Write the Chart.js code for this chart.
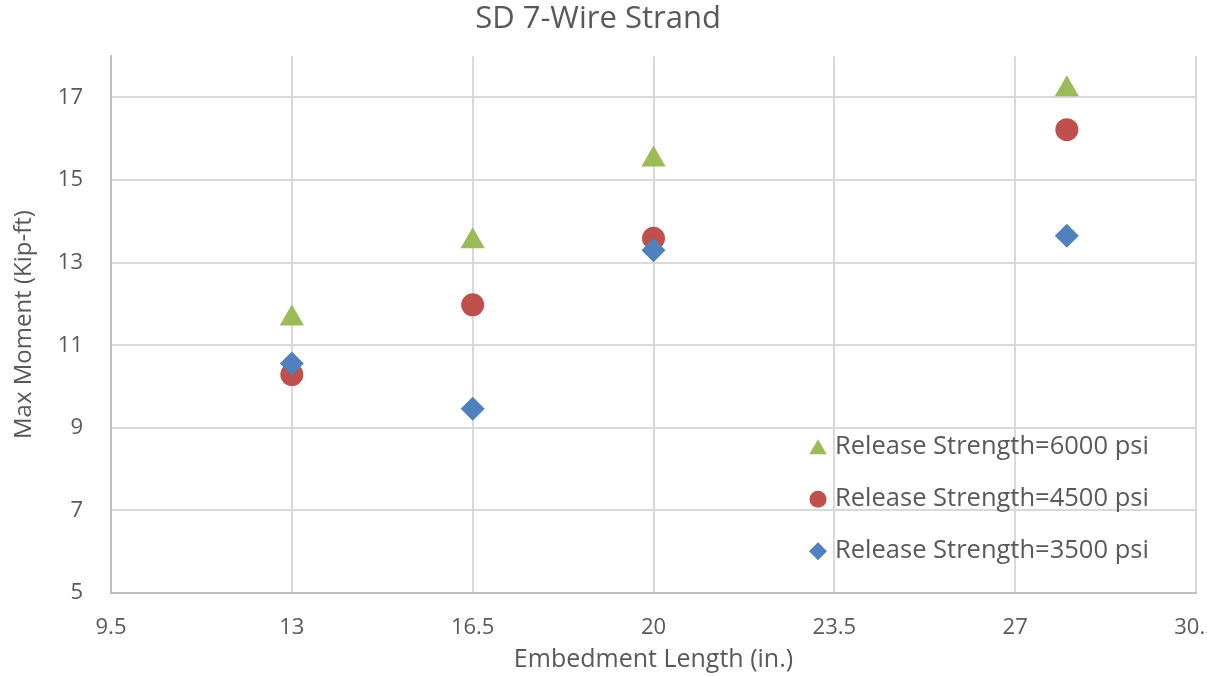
<!DOCTYPE html>
<html>
<head>
<meta charset="utf-8">
<script src="https://cdn.jsdelivr.net/npm/chart.js@4/dist/chart.umd.min.js"></script>
<style>
  html, body { margin: 0; padding: 0; background: #fff; }
  #wrap { width: 1207px; height: 676px; }
</style>
</head>
<body>
<div id="wrap"><canvas id="chart"></canvas></div>
<script>
// Embedment length (in.) for each test
const embedment = [13, 16.5, 20, 28];

// Max moment (kip-ft) per release strength
const moment3500 = [10.56, 9.46, 13.3, 13.65];
const moment4500 = [10.29, 11.98, 13.59, 16.22];
const moment6000 = [11.65, 13.52, 15.5, 17.2];

const seriesLabels = ['Release Strength=3500 psi', 'Release Strength=4500 psi', 'Release Strength=6000 psi'];

// axis ticks as shown on the chart
const xTicks = [9.5, 13, 16.5, 20, 23.5, 27, 30.5];
const yTicks = [5, 7, 9, 11, 13, 15, 17];

const textColor = '#595959';
const fontFamily = '"Open Sans", sans-serif';

function points(ys) {
    return embedment.map((x, i) => ({ x: x, y: ys[i] }));
}

// Excel-style legend sitting inside the plot area, bottom right
const insideLegend = {
    id: 'insideLegend',
    afterDraw(chart) {
        const ctx = chart.ctx;
        const area = chart.chartArea;
        const sets = chart.data.datasets.slice().reverse();
        const markerX = area.left + 707;
        const textX = area.left + 724;
        const firstY = area.top + 391;
        const rowGap = 52;
        ctx.save();
        ctx.font = '25.5px ' + fontFamily;
        ctx.textBaseline = 'middle';
        ctx.textAlign = 'left';
        sets.forEach((ds, i) => {
            const y = firstY + i * rowGap;
            ctx.fillStyle = ds.backgroundColor;
            ctx.strokeStyle = ds.backgroundColor;
            Chart.helpers.drawPoint(ctx, {
                pointStyle: ds.pointStyle,
                radius: ds.pointStyle === 'triangle' ? 10 : (ds.pointStyle === 'circle' ? 8.5 : 9),
                borderWidth: 0,
                rotation: 0
            }, markerX, y + (ds.pointStyle === 'triangle' ? 2 : 0));
            ctx.fillStyle = textColor;
            ctx.fillText(ds.label, textX, y);
        });
        ctx.restore();
    }
};

new Chart(document.getElementById('chart'), {
    type: 'scatter',
    data: {
        datasets: [
            {
                label: seriesLabels[0],
                data: points(moment3500),
                pointStyle: 'rectRot',
                pointRadius: 12,
                pointHoverRadius: 12,
                backgroundColor: '#4F81BD',
                borderColor: '#4F81BD',
                borderWidth: 0
            },
            {
                label: seriesLabels[1],
                data: points(moment4500),
                pointStyle: 'circle',
                pointRadius: 11.5,
                pointHoverRadius: 11.5,
                backgroundColor: '#C0504D',
                borderColor: '#C0504D',
                borderWidth: 0
            },
            {
                label: seriesLabels[2],
                data: points(moment6000),
                pointStyle: 'triangle',
                pointRadius: 14,
                pointHoverRadius: 14,
                backgroundColor: '#9BBB59',
                borderColor: '#9BBB59',
                borderWidth: 0
            }
        ]
    },
    options: {
        responsive: true,
        maintainAspectRatio: false,
        animation: false,
        layout: { autoPadding: false, padding: { left: 0, right: 11, top: 0, bottom: 0 } },
        plugins: {
            legend: { display: false },
            tooltip: { enabled: false },
            title: {
                display: true,
                text: 'SD 7-Wire Strand',
                color: textColor,
                font: { family: fontFamily, size: 31, weight: 'normal' },
                padding: { top: 1, bottom: 18 }
            }
        },
        scales: {
            x: {
                type: 'linear',
                min: 9.5,
                max: 30.5,
                // Excel lets the last label clip at the edge instead of shrinking the plot
                afterFit(s) { s.height = 83; s.paddingLeft = 0; s.paddingRight = 0; },
                afterBuildTicks(s) { s.ticks = xTicks.map(v => ({ value: v })); },
                ticks: {
                    padding: 22,
                    color: textColor,
                    font: { family: fontFamily, size: 22 }
                },
                grid: { color: '#d9d9d9', lineWidth: 2, drawTicks: false },
                border: { color: '#bfbfbf', width: 2 },
                title: {
                    display: true,
                    text: 'Embedment Length (in.)',
                    color: textColor,
                    font: { family: fontFamily, size: 25 },
                    padding: { top: 0, bottom: 1 }
                }
            },
            y: {
                type: 'linear',
                min: 5,
                max: 18,
                afterFit(s) { s.width = 111; },
                afterBuildTicks(s) { s.ticks = yTicks.map(v => ({ value: v })); },
                ticks: {
                    padding: 28,
                    color: textColor,
                    font: { family: fontFamily, size: 22 }
                },
                grid: { color: '#d9d9d9', lineWidth: 2, drawTicks: false },
                border: { color: '#bfbfbf', width: 2 },
                title: {
                    display: true,
                    text: 'Max Moment (Kip-ft)',
                    color: textColor,
                    font: { family: fontFamily, size: 24 },
                    padding: { top: 10, bottom: 0 }
                }
            }
        }
    },
    plugins: [insideLegend]
});
</script>
</body>
</html>
